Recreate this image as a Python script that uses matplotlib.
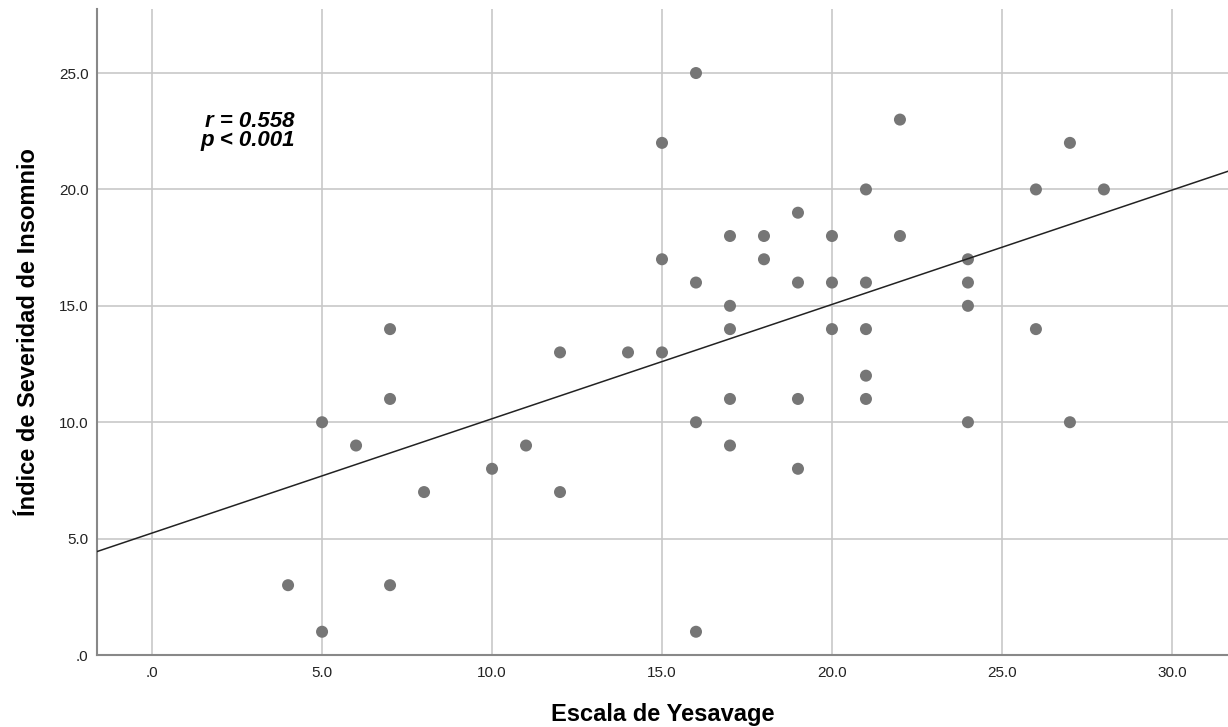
import numpy as np
import matplotlib.pyplot as plt
from matplotlib.ticker import FuncFormatter

plt.rcParams['font.family'] = ['Liberation Sans', 'DejaVu Sans']

# Escala de Yesavage vs Indice de Severidad de Insomnio
yesavage = [4, 5, 5, 6, 7, 7, 7, 8, 10, 11, 12, 12, 14, 15, 15, 15,
            16, 16, 16, 16, 17, 17, 17, 17, 17, 18, 18, 19, 19, 19, 19,
            20, 20, 20, 21, 21, 21, 21, 21, 22, 22, 24, 24, 24, 24,
            26, 26, 27, 27, 28]
isi = [3, 10, 1, 9, 14, 11, 3, 7, 8, 9, 13, 7, 13, 22, 17, 13,
       25, 16, 10, 1, 18, 15, 14, 11, 9, 18, 17, 19, 16, 11, 8,
       18, 16, 14, 20, 16, 14, 12, 11, 23, 18, 17, 16, 15, 10,
       20, 14, 22, 10, 20]

# fit line as drawn in the original
intercept = 5.24
slope = 0.491

x_ticks = [0, 5, 10, 15, 20, 25, 30]
y_ticks = [0, 5, 10, 15, 20, 25]

fig = plt.figure(figsize=(12.28, 7.27), dpi=100)
ax = fig.add_axes([0.079, 0.099, 0.921, 0.8886])

ax.set_xlim(-1.62, 31.65)
ax.set_ylim(0, 27.75)

ax.grid(True, color='#c8c8c8', linewidth=1.2)
ax.set_axisbelow(True)

ax.scatter(yesavage, isi, s=75, color='#767676', edgecolors='none', zorder=3)

xl = np.array(ax.get_xlim())
ax.plot(xl, intercept + slope * xl, color='#222222', linewidth=1.1, zorder=4)

ax.text(4.2, 22.9, 'r = 0.558', ha='right', va='center', fontsize=16,
        fontweight='bold', style='italic')
ax.text(4.2, 22.1, 'p < 0.001', ha='right', va='center', fontsize=16,
        fontweight='bold', style='italic')

def fmt(v, pos):
    s = '%.1f' % v
    if s.startswith('0'):
        s = s[1:]
    return s

ax.set_xticks(x_ticks)
ax.set_yticks(y_ticks)
ax.xaxis.set_major_formatter(FuncFormatter(fmt))
ax.yaxis.set_major_formatter(FuncFormatter(fmt))
ax.tick_params(length=0, labelsize=11, colors='#222222', pad=8)
ax.tick_params(axis='y', pad=6)

for s in ['top', 'right']:
    ax.spines[s].set_visible(False)
for s in ['left', 'bottom']:
    ax.spines[s].set_color('#888888')
    ax.spines[s].set_linewidth(1.5)

ax.set_xlabel('Escala de Yesavage', fontsize=17, fontweight='bold', labelpad=16.5)
ax.set_ylabel('Índice de Severidad de Insomnio', fontsize=17, fontweight='bold', labelpad=14)

fig.savefig('out.png', dpi=100)
